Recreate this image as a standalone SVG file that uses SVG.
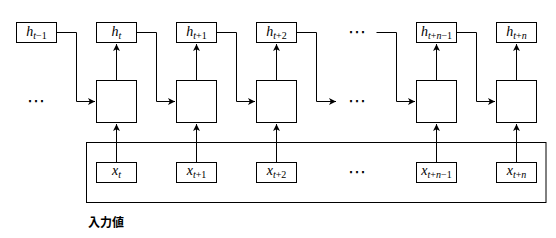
<svg xmlns="http://www.w3.org/2000/svg" width="556" height="238" viewBox="0 0 556 238">
<style>
.box{fill:#fff;stroke:#000;stroke-width:1}
.wire{fill:none;stroke:#000;stroke-width:1}
.m{font-family:"Liberation Serif","DejaVu Serif",serif;font-size:14px;font-style:italic;fill:#000}
.s{font-size:10px}
.u{font-style:normal}
.dots{font-family:"DejaVu Sans",sans-serif;font-size:18px;fill:#000}
.lbl{font-family:"Noto Sans CJK JP","Noto Sans CJK SC",sans-serif;font-size:12px;font-weight:bold;fill:#000}
</style>
<defs>
<marker id="arr" markerUnits="userSpaceOnUse" markerWidth="8" markerHeight="8" refX="7" refY="4" orient="auto">
<path d="M0,0.5 L7,4 L0,7.5 L1.8,4 Z" fill="#000"/>
</marker>
</defs>
<g id="connectors">
<path class="wire" d="M56.5,32.5 H76.5 V101.5 H95" marker-end="url(#arr)"/>
<path class="wire" d="M136.5,32.5 H156.5 V101.5 H175" marker-end="url(#arr)"/>
<path class="wire" d="M216.5,32.5 H236.5 V101.5 H255" marker-end="url(#arr)"/>
<path class="wire" d="M296.5,32.5 H316.5 V101.5 H336" marker-end="url(#arr)"/>
<path class="wire" d="M376.5,32.5 H396.5 V101.5 H415" marker-end="url(#arr)"/>
<path class="wire" d="M456.5,32.5 H476.5 V101.5 H495" marker-end="url(#arr)"/>
<path class="wire" d="M116.5,80.5 V44" marker-end="url(#arr)"/>
<path class="wire" d="M196.5,80.5 V44" marker-end="url(#arr)"/>
<path class="wire" d="M276.5,80.5 V44" marker-end="url(#arr)"/>
<path class="wire" d="M436.5,80.5 V44" marker-end="url(#arr)"/>
<path class="wire" d="M516.5,80.5 V44" marker-end="url(#arr)"/>
<path class="wire" d="M116.5,162.5 V124" marker-end="url(#arr)"/>
<path class="wire" d="M196.5,162.5 V124" marker-end="url(#arr)"/>
<path class="wire" d="M276.5,162.5 V124" marker-end="url(#arr)"/>
<path class="wire" d="M436.5,162.5 V124" marker-end="url(#arr)"/>
<path class="wire" d="M516.5,162.5 V124" marker-end="url(#arr)"/>
</g>
<g id="input-group"><rect x="86.5" y="142.5" width="459.5" height="60" fill="none" stroke="#000" stroke-width="1"/></g>
<g id="h_tm1"><rect class="box" x="16.5" y="22.5" width="40" height="20"/><text class="m" x="36.5" y="36" text-anchor="middle">h<tspan class="s" dy="2.5">t<tspan class="u">−1</tspan></tspan></text></g>
<g id="h_t"><rect class="box" x="96.5" y="22.5" width="40" height="20"/><text class="m" x="116.5" y="36" text-anchor="middle">h<tspan class="s" dy="2.5">t</tspan></text></g>
<g id="h_tp1"><rect class="box" x="176.5" y="22.5" width="40" height="20"/><text class="m" x="196.5" y="36" text-anchor="middle">h<tspan class="s" dy="2.5">t<tspan class="u">+1</tspan></tspan></text></g>
<g id="h_tp2"><rect class="box" x="256.5" y="22.5" width="40" height="20"/><text class="m" x="276.5" y="36" text-anchor="middle">h<tspan class="s" dy="2.5">t<tspan class="u">+2</tspan></tspan></text></g>
<g id="h_tpnm1"><rect class="box" x="416.5" y="22.5" width="40" height="20"/><text class="m" x="436.5" y="36" text-anchor="middle">h<tspan class="s" dy="2.5">t<tspan class="u">+</tspan>n<tspan class="u">−1</tspan></tspan></text></g>
<g id="h_tpn"><rect class="box" x="496.5" y="22.5" width="40" height="20"/><text class="m" x="516.5" y="36" text-anchor="middle">h<tspan class="s" dy="2.5">t<tspan class="u">+</tspan>n</tspan></text></g>
<g id="cell_t"><rect class="box" x="96.5" y="80.5" width="40" height="42"/></g>
<g id="cell_tp1"><rect class="box" x="176.5" y="80.5" width="40" height="42"/></g>
<g id="cell_tp2"><rect class="box" x="256.5" y="80.5" width="40" height="42"/></g>
<g id="cell_tpnm1"><rect class="box" x="416.5" y="80.5" width="40" height="42"/></g>
<g id="cell_tpn"><rect class="box" x="496.5" y="80.5" width="40" height="42"/></g>
<g id="x_t"><rect class="box" x="96.5" y="162.5" width="40" height="20"/><text class="m" x="116.5" y="175" text-anchor="middle">x<tspan class="s" dy="2.5">t</tspan></text></g>
<g id="x_tp1"><rect class="box" x="176.5" y="162.5" width="40" height="20"/><text class="m" x="196.5" y="175" text-anchor="middle">x<tspan class="s" dy="2.5">t<tspan class="u">+1</tspan></tspan></text></g>
<g id="x_tp2"><rect class="box" x="256.5" y="162.5" width="40" height="20"/><text class="m" x="276.5" y="175" text-anchor="middle">x<tspan class="s" dy="2.5">t<tspan class="u">+2</tspan></tspan></text></g>
<g id="x_tpnm1"><rect class="box" x="416.5" y="162.5" width="40" height="20"/><text class="m" x="436.5" y="175" text-anchor="middle">x<tspan class="s" dy="2.5">t<tspan class="u">+</tspan>n<tspan class="u">−1</tspan></tspan></text></g>
<g id="x_tpn"><rect class="box" x="496.5" y="162.5" width="40" height="20"/><text class="m" x="516.5" y="175" text-anchor="middle">x<tspan class="s" dy="2.5">t<tspan class="u">+</tspan>n</tspan></text></g>
<g id="dots">
<text class="dots" x="36" y="107" text-anchor="middle">⋯</text>
<text class="dots" x="357" y="38" text-anchor="middle">⋯</text>
<text class="dots" x="357" y="107" text-anchor="middle">⋯</text>
<text class="dots" x="357" y="178" text-anchor="middle">⋯</text>
</g>
<g id="label"><text class="lbl" x="88" y="226.5">入力値</text></g>
</svg>
